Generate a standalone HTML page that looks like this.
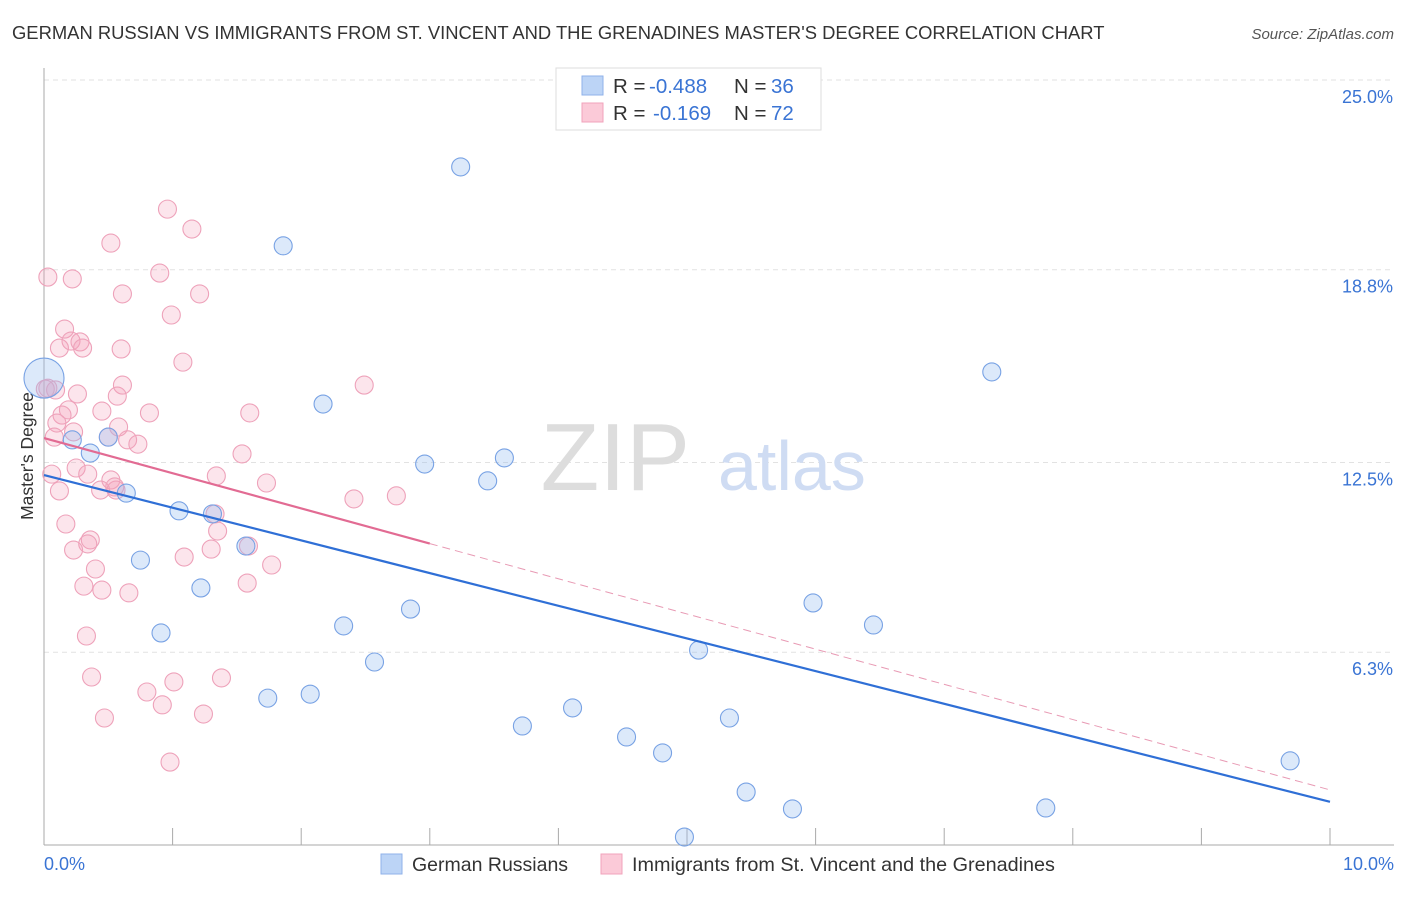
<!DOCTYPE html>
<html><head><meta charset="utf-8"><style>
body{margin:0;background:#fff;font-family:"Liberation Sans",sans-serif;}
svg text{font-family:"Liberation Sans",sans-serif;}
</style></head><body>
<svg width="1406" height="892" xmlns="http://www.w3.org/2000/svg">
<text x="12" y="39" font-size="18.4" fill="#333">GERMAN RUSSIAN VS IMMIGRANTS FROM ST. VINCENT AND THE GRENADINES MASTER'S DEGREE CORRELATION CHART</text>
<text x="1394" y="39" font-size="15" fill="#555" font-style="italic" text-anchor="end">Source: ZipAtlas.com</text>
<g id="grid"></g>
<text x="690" y="490" font-size="96" fill="#ddd" font-family="Liberation Serif" text-anchor="end">ZIP</text>
<text x="718" y="490" font-size="70" fill="#cfdcf3">atlas</text>
<g id="axes"></g>
<text transform="translate(33,456) rotate(-90)" font-size="17.5" fill="#333" text-anchor="middle">Master's Degree</text>
<g id="marks"></g>
<g>
<rect x="556" y="68" width="265" height="62" fill="#fff" stroke="#ddd"/>
<rect x="582" y="76" width="21" height="19" fill="#bcd4f6" stroke="#8fb2ea"/>
<rect x="582" y="103" width="21" height="19" fill="#fbcad8" stroke="#f0a3bb"/>
<text x="613" y="93" font-size="20.5" fill="#333">R = <tspan x="649" fill="#3a74d4">-0.488</tspan><tspan x="734">N = </tspan><tspan x="771" fill="#3a74d4">36</tspan></text>
<text x="613" y="120" font-size="20.5" fill="#333">R = <tspan x="653" fill="#3a74d4">-0.169</tspan><tspan x="734">N = </tspan><tspan x="771" fill="#3a74d4">72</tspan></text>
</g>
<g>
<rect x="381" y="854" width="21" height="20" fill="#bcd4f6" stroke="#8fb2ea"/>
<text x="412" y="871" font-size="19.5" fill="#333">German Russians</text>
<rect x="601" y="854" width="21" height="20" fill="#fbcad8" stroke="#f0a3bb"/>
<text x="632" y="871" font-size="19.8" fill="#333">Immigrants from St. Vincent and the Grenadines</text>
</g>
</svg>
<script>
const yTicks=[25.0,18.8,12.5,6.3];
const yTickLabels=["25.0%","18.8%","12.5%","6.3%"];
const xTickLabels=["0.0%","10.0%"];
const blueX=[0,3.24,1.86,7.37,2.17,2.96,3.58,3.45,0.22,0.36,0.50,0.64,1.05,1.31,1.57,0.75,1.22,0.91,2.33,2.85,2.57,1.74,2.07,3.72,4.11,4.53,4.81,5.33,5.09,5.98,6.45,5.46,5.82,4.98,7.79,9.69];
const blueY=[15.26,22.16,19.58,15.46,14.41,12.45,12.65,11.90,13.24,12.81,13.33,11.50,10.92,10.82,9.77,9.31,8.40,6.93,7.16,7.71,5.98,4.80,4.93,3.89,4.48,3.53,3.01,4.15,6.37,7.91,7.19,1.73,1.18,0.26,1.21,2.75];
const pinkX=[0.03,0.22,0.52,0.96,1.15,0.90,0.61,1.21,0.99,0.16,0.21,0.28,0.30,0.12,0.60,1.08,0.03,0.09,0.26,0.61,0.57,2.49,0.19,0.45,0.82,1.60,0.14,0.10,0.58,0.23,0.08,0.50,0.65,0.73,1.54,0.25,0.34,1.34,0.06,0.52,0.12,0.44,0.56,1.73,2.41,2.74,1.33,0.17,1.35,0.36,0.34,0.23,1.59,1.09,1.30,1.77,0.40,0.31,1.58,0.45,0.66,0.33,0.37,1.38,1.01,0.80,0.92,0.47,1.24,0.98,0.01,0.55];
const pinkY=[18.56,18.50,19.67,20.78,20.13,18.69,18.01,18.01,17.32,16.86,16.47,16.44,16.24,16.24,16.21,15.78,14.93,14.87,14.74,15.03,14.67,15.03,14.22,14.18,14.12,14.12,14.05,13.79,13.66,13.50,13.33,13.33,13.24,13.10,12.78,12.32,12.12,12.06,12.12,11.93,11.57,11.60,11.60,11.83,11.31,11.41,10.82,10.49,10.26,9.97,9.84,9.64,9.77,9.41,9.67,9.15,9.02,8.46,8.56,8.33,8.24,6.83,5.49,5.46,5.33,5.00,4.58,4.15,4.28,2.71,14.9,11.7];
const blueTrend=[12.09,1.41];
const pinkTrend=[13.30,1.80];
const pinkSolidEnd=3.0;

const NS="http://www.w3.org/2000/svg";
const X=v=>44+v*128.6, Y=v=>845-v*30.6;
function mk(tag,attrs,parent){const e=document.createElementNS(NS,tag);for(const k in attrs)e.setAttribute(k,attrs[k]);parent.appendChild(e);return e;}
const grid=document.getElementById('grid'),axes=document.getElementById('axes'),marks=document.getElementById('marks');
yTicks.forEach((t,i)=>{
 const l=mk('line',{x1:44,x2:1394,y1:Y(t),y2:Y(t),stroke:'#e2e2e2','stroke-dasharray':'5,4'},grid);
 
 
 const tx=mk('text',{x:1393,y:Y(t)+23,'font-size':18,fill:'#3a74d4','text-anchor':'end'},grid);
 tx.textContent=yTickLabels[i];
 
 
});
const ax=mk('line',{x1:44,x2:44,y1:68,y2:845,stroke:'#aaa'},axes);


const bx=mk('line',{x1:44,x2:1394,y1:845,y2:845,stroke:'#aaa'},axes);


for(let i=0;i<=10;i++){
 const t=mk('line',{x1:X(i),x2:X(i),y1:828,y2:845,stroke:'#aaa'},axes);
 
 
}
[[0,'start',44],[10,'end',1394]].forEach((d,i)=>{
 const tx=mk('text',{x:d[2],y:870,'font-size':18,fill:'#3a74d4','text-anchor':d[1]},axes);
 tx.textContent=xTickLabels[i];
 
 
});
pinkX.forEach((x,i)=>{
 const c=mk('circle',{cx:X(x),cy:Y(pinkY[i]),r:9,fill:'rgba(244,160,186,0.28)',stroke:'#eea2ba','stroke-width':1.1},marks);
 
 
});
blueX.forEach((x,i)=>{
 const c=mk('circle',{cx:X(x),cy:Y(blueY[i]),r:i===0?20:9,fill:'rgba(150,187,240,0.33)',stroke:'#78a2e4','stroke-width':1.1},marks);
 
 
});
const bl=mk('line',{x1:X(0),y1:Y(blueTrend[0]),x2:X(10),y2:Y(blueTrend[1]),stroke:'#2f6fd6','stroke-width':2.2},marks);


const pAt=v=>pinkTrend[0]+(pinkTrend[1]-pinkTrend[0])*v/10;
const pl=mk('line',{x1:X(0),y1:Y(pinkTrend[0]),x2:X(pinkSolidEnd),y2:Y(pAt(pinkSolidEnd)),stroke:'#e26b93','stroke-width':2.2},marks);


const pd=mk('line',{x1:X(pinkSolidEnd),y1:Y(pAt(pinkSolidEnd)),x2:X(10),y2:Y(pinkTrend[1]),stroke:'#e89ab4','stroke-width':1,'stroke-dasharray':'8,5'},marks);


</script>
</body></html>
